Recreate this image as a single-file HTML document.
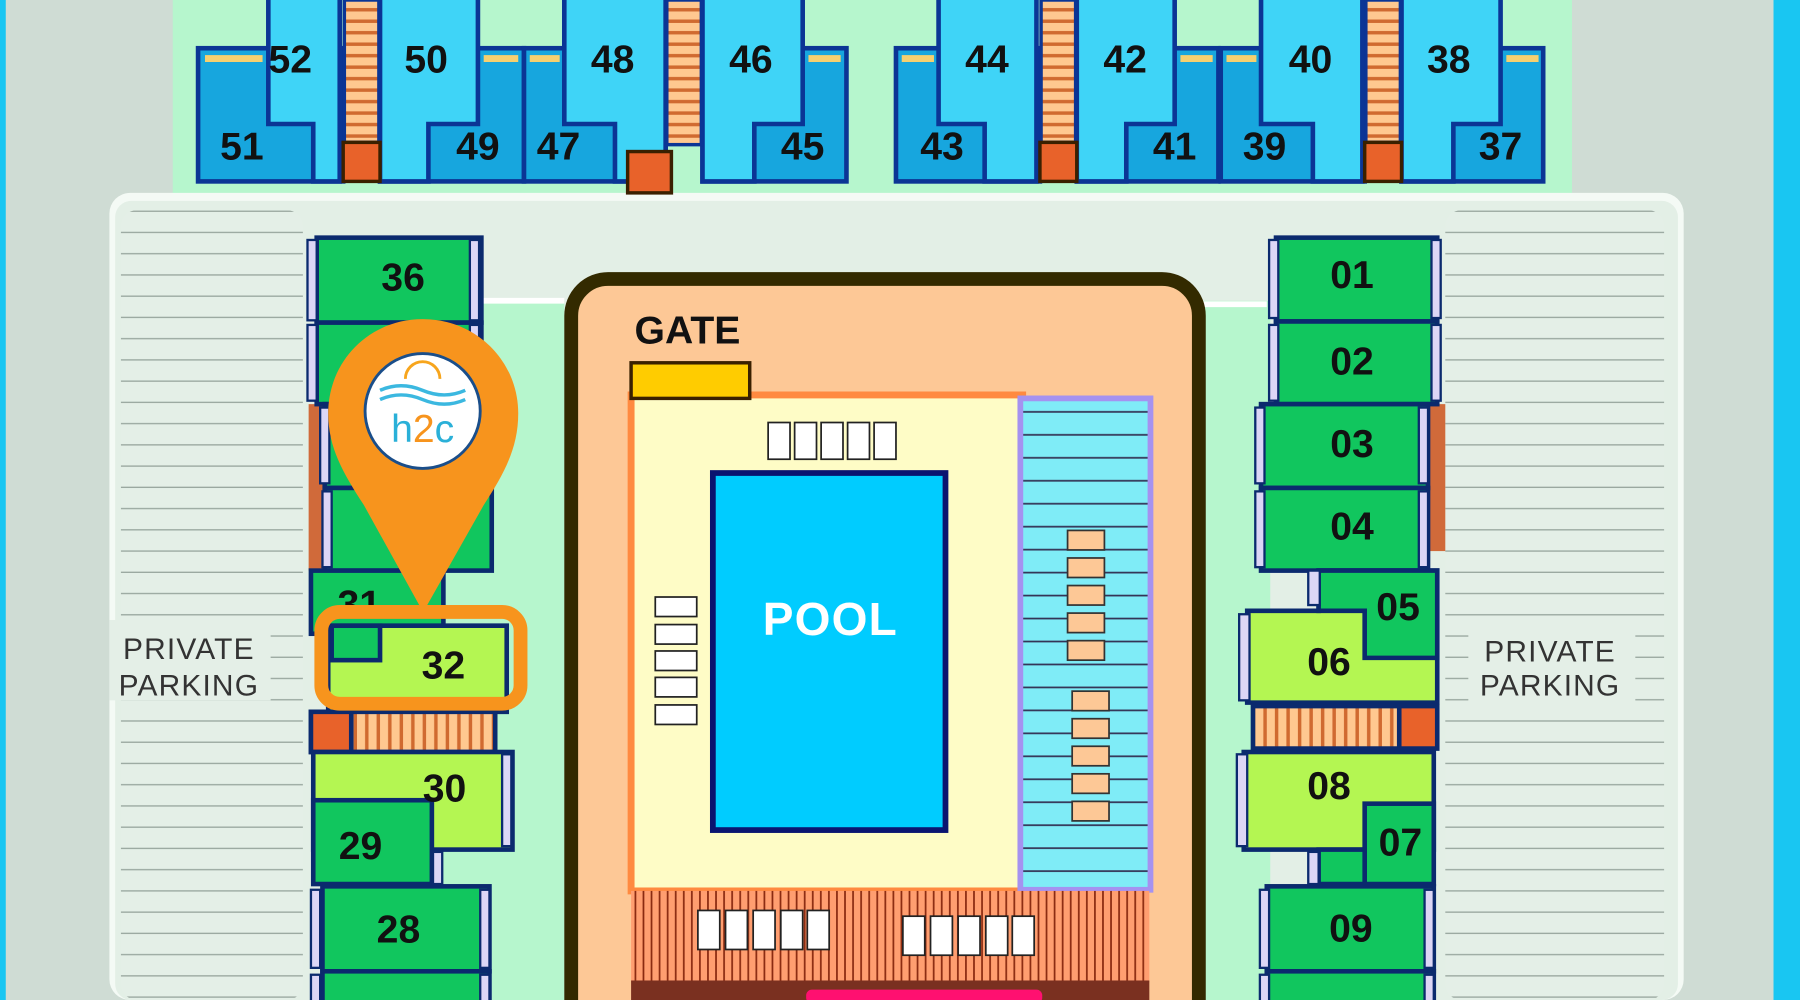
<!DOCTYPE html>
<html><head><meta charset="utf-8"><style>
html,body{margin:0;padding:0;width:1800px;height:1000px;overflow:hidden;background:#cfdcd4}
svg{display:block}
.n{font-family:"Liberation Sans",sans-serif;font-weight:bold;font-size:34px;fill:#111;text-anchor:middle}
.p{font-family:"Liberation Sans",sans-serif;font-size:26px;fill:#333;text-anchor:middle;letter-spacing:1px}
</style></head><body>
<svg width="1800" height="1000" viewBox="0 0 1563 871" preserveAspectRatio="none" xmlns="http://www.w3.org/2000/svg">
<defs>
<pattern id="park" width="20" height="18.5" patternUnits="userSpaceOnUse"><rect width="20" height="18.5" fill="#e4efe7"/><line x1="0" y1="17.5" x2="20" y2="17.5" stroke="#9aa8a0" stroke-width="1.2"/></pattern>
<pattern id="stairH" width="30" height="10" patternUnits="userSpaceOnUse"><rect width="30" height="10" fill="#ffc890"/><rect y="7" width="30" height="3" fill="#d06a30"/></pattern>
<pattern id="stairV" width="10" height="40" patternUnits="userSpaceOnUse"><rect width="10" height="40" fill="#ffc890"/><rect x="7" width="3" height="40" fill="#d06a30"/></pattern>
<pattern id="deck" width="7" height="10" patternUnits="userSpaceOnUse"><rect width="7" height="10" fill="#ff9e70"/><rect x="5" width="1.5" height="10" fill="#8a2a10"/></pattern>
<pattern id="lanes" width="10" height="20" patternUnits="userSpaceOnUse"><rect width="10" height="20" fill="#7fecf7"/><rect y="18" width="10" height="1.5" fill="#335"/></pattern>
</defs>
<rect width="1563" height="871" fill="#cfdcd4"/>
<rect x="0" y="0" width="5" height="871" fill="#19c6f2"/>
<rect x="1540" y="0" width="23" height="871" fill="#19c6f2"/>
<rect x="150" y="0" width="1215" height="170" fill="#b6f6cd"/>
<rect x="95" y="168" width="1367" height="703" rx="18" fill="#f4faf5"/>
<rect x="100" y="175" width="1357" height="696" rx="14" fill="#e3efe6"/>
<rect x="300" y="262" width="190" height="609" fill="#b6f6cd"/>
<rect x="1045" y="262" width="58" height="609" fill="#b6f6cd"/>
<line x1="300" y1="262" x2="490" y2="262" stroke="#fff" stroke-width="5"/>
<line x1="1045" y1="265" x2="1100" y2="265" stroke="#fff" stroke-width="5"/>
<rect x="105" y="183" width="158" height="688" rx="14" fill="url(#park)"/>
<rect x="1255" y="183" width="190" height="688" rx="14" fill="url(#park)"/>
<rect x="95" y="540" width="140" height="70" fill="#e4efe7"/>
<rect x="1275" y="542" width="145" height="70" fill="#e4efe7"/>
<text class="p" x="164" y="574">PRIVATE</text>
<text class="p" x="164" y="606">PARKING</text>
<text class="p" x="1346" y="576">PRIVATE</text>
<text class="p" x="1346" y="606">PARKING</text>

<g stroke="#0b3595" stroke-width="4">
<rect x="172" y="42" width="126" height="116" fill="#17a6de"/>
<polygon points="233,-5 295,-5 295,158 272,158 272,108 233,108" fill="#3fd4f7"/>
<rect x="330" y="42" width="125" height="116" fill="#17a6de"/>
<polygon points="330,-5 415,-5 415,108 372,108 372,158 330,158" fill="#3fd4f7"/>
<rect x="455" y="42" width="123" height="116" fill="#17a6de"/>
<polygon points="490,-5 578,-5 578,158 534,158 534,108 490,108" fill="#3fd4f7"/>
<rect x="610" y="42" width="125" height="116" fill="#17a6de"/>
<polygon points="610,-5 697,-5 697,108 655,108 655,158 610,158" fill="#3fd4f7"/>
<rect x="778" y="42" width="125" height="116" fill="#17a6de"/>
<polygon points="815,-5 900,-5 900,158 855,158 855,108 815,108" fill="#3fd4f7"/>
<rect x="935" y="42" width="123" height="116" fill="#17a6de"/>
<polygon points="935,-5 1020,-5 1020,108 978,108 978,158 935,158" fill="#3fd4f7"/>
<rect x="1060" y="42" width="125" height="116" fill="#17a6de"/>
<polygon points="1095,-5 1183,-5 1183,158 1140,158 1140,108 1095,108" fill="#3fd4f7"/>
<rect x="1217" y="42" width="123" height="116" fill="#17a6de"/>
<polygon points="1217,-5 1303,-5 1303,108 1262,108 1262,158 1217,158" fill="#3fd4f7"/>
</g>
<g fill="#f5d070">
<rect x="178" y="48" width="50" height="6"/><rect x="420" y="48" width="30" height="6"/><rect x="460" y="48" width="26" height="6"/><rect x="702" y="48" width="28" height="6"/>
<rect x="783" y="48" width="28" height="6"/><rect x="1025" y="48" width="28" height="6"/><rect x="1065" y="48" width="26" height="6"/><rect x="1308" y="48" width="28" height="6"/>
</g>
<g stroke="#0b3595" stroke-width="3">
<rect x="299" y="0" width="30" height="124" fill="url(#stairH)"/><rect x="298" y="124" width="32" height="34" fill="#e8622a" stroke="#3a2000"/>
<rect x="579" y="0" width="30" height="126" fill="url(#stairH)"/><rect x="545" y="132" width="38" height="36" fill="#e8622a" stroke="#3a2000"/>
<rect x="904" y="0" width="30" height="124" fill="url(#stairH)"/><rect x="903" y="124" width="32" height="34" fill="#e8622a" stroke="#3a2000"/>
<rect x="1186" y="0" width="30" height="124" fill="url(#stairH)"/><rect x="1185" y="124" width="32" height="34" fill="#e8622a" stroke="#3a2000"/>
</g>
<g>
<text class="n" x="252" y="63">52</text><text class="n" x="210" y="139">51</text>
<text class="n" x="370" y="63">50</text><text class="n" x="415" y="139">49</text>
<text class="n" x="532" y="63">48</text><text class="n" x="485" y="139">47</text>
<text class="n" x="652" y="63">46</text><text class="n" x="697" y="139">45</text>
<text class="n" x="857" y="63">44</text><text class="n" x="818" y="139">43</text>
<text class="n" x="977" y="63">42</text><text class="n" x="1020" y="139">41</text>
<text class="n" x="1138" y="63">40</text><text class="n" x="1098" y="139">39</text>
<text class="n" x="1258" y="63">38</text><text class="n" x="1303" y="139">37</text>
</g>

<g stroke="#0b2a6e" stroke-width="4">
<rect x="268" y="352" width="14" height="145" fill="#d06a3a" stroke="none"/>
<rect x="275" y="207" width="143" height="74" fill="#11c65e"/>
<rect x="275" y="281" width="143" height="71" fill="#11c65e"/>
<rect x="282" y="352" width="140" height="73" fill="#11c65e"/>
<rect x="282" y="425" width="145" height="72" fill="#11c65e"/>
<rect x="270" y="497" width="115" height="55" fill="#11c65e"/>
<polygon points="285,545 440,545 440,620 285,620" fill="#b4f652"/>
<rect x="288" y="545" width="42" height="30" fill="#11c65e"/>
<rect x="270" y="620" width="160" height="35" fill="url(#stairV)"/>
<rect x="270" y="620" width="35" height="35" fill="#e8622a"/>
<rect x="272" y="655" width="173" height="85" fill="#b4f652"/>
<rect x="272" y="697" width="103" height="73" fill="#11c65e"/>
<rect x="280" y="772" width="145" height="74" fill="#11c65e"/>
<rect x="280" y="846" width="145" height="40" fill="#11c65e"/>
</g>
<g fill="#dcd6f6" stroke="#0b2a6e" stroke-width="2">
<rect x="267" y="209" width="8" height="70"/><rect x="408" y="209" width="8" height="70"/>
<rect x="267" y="283" width="8" height="66"/><rect x="408" y="283" width="8" height="66"/>
<rect x="278" y="355" width="8" height="66"/><rect x="280" y="428" width="8" height="66"/>
<rect x="436" y="657" width="8" height="80"/><rect x="376" y="742" width="8" height="28"/>
<rect x="270" y="775" width="8" height="68"/><rect x="417" y="775" width="8" height="68"/>
<rect x="270" y="849" width="8" height="30"/><rect x="417" y="849" width="8" height="30"/>
</g>
<text class="n" x="350" y="253">36</text>
<text class="n" x="312" y="538">31</text>
<text class="n" x="385" y="591">32</text>
<text class="n" x="386" y="698">30</text>
<text class="n" x="313" y="748">29</text>
<text class="n" x="346" y="821">28</text>

<g stroke="#0b2a6e" stroke-width="4">
<rect x="1240" y="352" width="15" height="128" fill="#d06a3a" stroke="none"/>
<rect x="1108" y="207" width="140" height="73" fill="#11c65e"/>
<rect x="1108" y="280" width="140" height="72" fill="#11c65e"/>
<rect x="1095" y="352" width="145" height="73" fill="#11c65e"/>
<rect x="1095" y="425" width="145" height="72" fill="#11c65e"/>
<polygon points="1145,497 1248,497 1248,612 1083,612 1083,532 1145,532" fill="#b4f652"/>
<polygon points="1145,497 1248,497 1248,573 1185,573 1185,532 1145,532" fill="#11c65e"/>
<rect x="1088" y="615" width="130" height="37" fill="url(#stairV)"/>
<rect x="1215" y="615" width="33" height="37" fill="#e8622a"/>
<rect x="1080" y="655" width="165" height="85" fill="#b4f652"/>
<rect x="1185" y="700" width="60" height="70" fill="#11c65e"/>
<rect x="1145" y="740" width="40" height="30" fill="#11c65e"/>
<rect x="1100" y="772" width="145" height="74" fill="#11c65e"/>
<rect x="1100" y="846" width="145" height="40" fill="#11c65e"/>
</g>
<g fill="#dcd6f6" stroke="#0b2a6e" stroke-width="2">
<rect x="1102" y="209" width="8" height="68"/><rect x="1243" y="209" width="8" height="68"/>
<rect x="1102" y="283" width="8" height="66"/><rect x="1243" y="283" width="8" height="66"/>
<rect x="1090" y="355" width="8" height="66"/><rect x="1232" y="355" width="8" height="66"/>
<rect x="1090" y="428" width="8" height="66"/><rect x="1232" y="428" width="8" height="66"/>
<rect x="1136" y="497" width="10" height="30"/><rect x="1076" y="535" width="9" height="75"/>
<rect x="1074" y="657" width="9" height="80"/><rect x="1136" y="742" width="9" height="28"/>
<rect x="1094" y="775" width="8" height="68"/><rect x="1237" y="775" width="8" height="68"/>
<rect x="1094" y="849" width="8" height="30"/><rect x="1237" y="849" width="8" height="30"/>
</g>
<text class="n" x="1174" y="251">01</text>
<text class="n" x="1174" y="326">02</text>
<text class="n" x="1174" y="398">03</text>
<text class="n" x="1174" y="470">04</text>
<text class="n" x="1214" y="540">05</text>
<text class="n" x="1154" y="588">06</text>
<text class="n" x="1154" y="696">08</text>
<text class="n" x="1216" y="745">07</text>
<text class="n" x="1173" y="820">09</text>

<rect x="496" y="243" width="545" height="660" rx="32" fill="#fdc896" stroke="#332a00" stroke-width="12"/>
<text x="551" y="299" font-family="Liberation Sans,sans-serif" font-weight="bold" font-size="34" fill="#111">GATE</text>
<rect x="548" y="344" width="340" height="432" fill="#fefcc6" stroke="#ff8a40" stroke-width="6"/>
<rect x="548" y="316" width="103" height="31" fill="#ffcc00" stroke="#3a2000" stroke-width="3"/>
<rect x="886" y="347" width="113" height="428" fill="url(#lanes)" stroke="#a592f0" stroke-width="5"/>
<g fill="#fdc896" stroke="#333" stroke-width="1.5">
<rect x="927" y="462" width="32" height="17"/><rect x="927" y="486" width="32" height="17"/><rect x="927" y="510" width="32" height="17"/><rect x="927" y="534" width="32" height="17"/><rect x="927" y="558" width="32" height="17"/>
<rect x="931" y="602" width="32" height="17"/><rect x="931" y="626" width="32" height="17"/><rect x="931" y="650" width="32" height="17"/><rect x="931" y="674" width="32" height="17"/><rect x="931" y="698" width="32" height="17"/>
</g>
<rect x="619" y="412" width="202" height="311" fill="#00ccff" stroke="#0a1470" stroke-width="5"/>
<text x="721" y="553" font-family="Liberation Sans,sans-serif" font-weight="bold" font-size="40" fill="#fff" text-anchor="middle" letter-spacing="1">POOL</text>
<g fill="#fff" stroke="#222" stroke-width="1.5">
<rect x="667" y="368" width="19" height="32"/><rect x="690" y="368" width="19" height="32"/><rect x="713" y="368" width="19" height="32"/><rect x="736" y="368" width="19" height="32"/><rect x="759" y="368" width="19" height="32"/>
<rect x="569" y="520" width="36" height="17"/><rect x="569" y="544" width="36" height="17"/><rect x="569" y="567" width="36" height="17"/><rect x="569" y="590" width="36" height="17"/><rect x="569" y="614" width="36" height="17"/>
</g>
<rect x="548" y="776" width="450" height="80" fill="url(#deck)"/>
<rect x="548" y="854" width="450" height="20" fill="#7a3020"/>
<rect x="700" y="862" width="205" height="12" rx="5" fill="#ff1070"/>
<g fill="#fff" stroke="#222" stroke-width="1.5">
<rect x="606" y="793" width="19" height="34"/><rect x="630" y="793" width="19" height="34"/><rect x="654" y="793" width="19" height="34"/><rect x="678" y="793" width="19" height="34"/><rect x="701" y="793" width="19" height="34"/>
<rect x="784" y="798" width="19" height="34"/><rect x="808" y="798" width="19" height="34"/><rect x="832" y="798" width="19" height="34"/><rect x="856" y="798" width="19" height="34"/><rect x="879" y="798" width="19" height="34"/>
</g>

<rect x="279" y="533" width="173" height="80" rx="16" fill="none" stroke="#f7941d" stroke-width="12"/>
<path d="M367,278 C414,278 450,315 450,360 C450,390 438,412 420,440 L371,527 L364,527 L316,440 C298,412 285,390 285,360 C285,315 320,278 367,278 Z" fill="#f7941d"/>
<circle cx="367" cy="358" r="50" fill="#fff" stroke="#1a4e8a" stroke-width="2.5"/>
<path d="M330,340 Q348,332 367,340 T404,340" fill="none" stroke="#3bb8e0" stroke-width="3"/>
<path d="M330,348 Q348,340 367,348 T404,348" fill="none" stroke="#3bb8e0" stroke-width="3"/>
<path d="M352,330 A15,15 0 0 1 382,330" fill="none" stroke="#f7a51d" stroke-width="2.5"/>
<text x="367" y="385" font-family="Liberation Sans,sans-serif" font-size="34" fill="#2ab0d8" text-anchor="middle">h<tspan fill="#f7941d">2</tspan>c</text>
</svg>
</body></html>
